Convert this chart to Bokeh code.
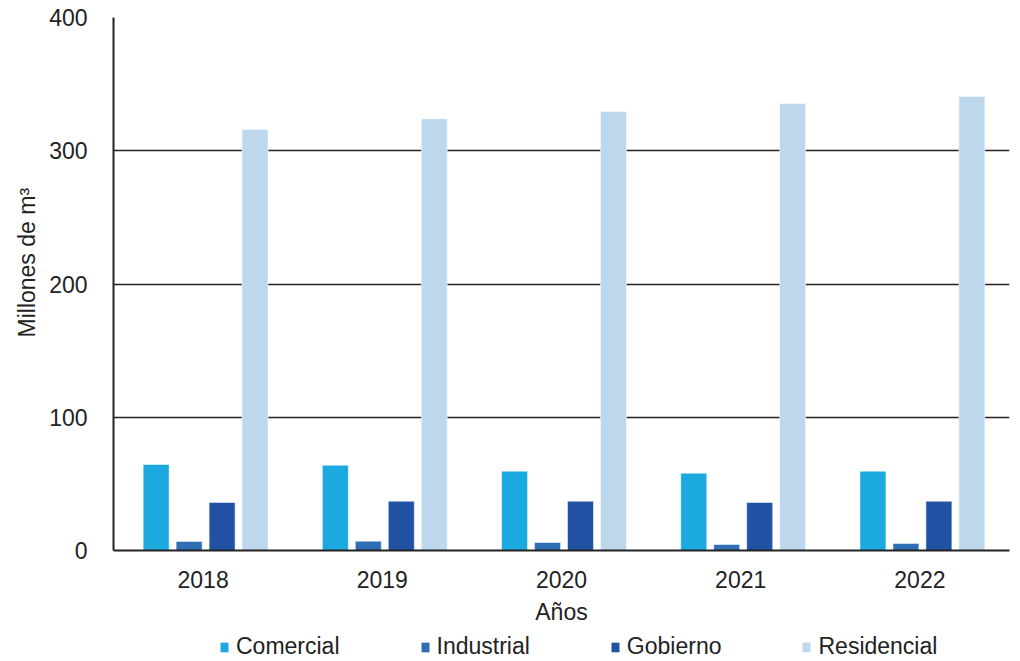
from bokeh.plotting import figure
from bokeh.layouts import column
from bokeh.models import ColumnDataSource, Range1d, Legend, LegendItem, FixedTicker, Title
from bokeh.transform import dodge
from bokeh.embed import file_html
from bokeh.resources import INLINE

years = ["2018", "2019", "2020", "2021", "2022"]
comercial = [64.5, 64.0, 59.5, 58.0, 59.5]
industrial = [6.8, 7.0, 6.0, 4.5, 5.3]
gobierno = [36.0, 37.0, 37.0, 36.0, 37.0]
residencial = [316.0, 324.0, 329.5, 335.5, 340.7]

series = [("Comercial", comercial, "#1BA9E0"),
          ("Industrial", industrial, "#2F6DB5"),
          ("Gobierno", gobierno, "#2152A3"),
          ("Residencial", residencial, "#BDD7EC")]

src = ColumnDataSource(dict(years=years, comercial=comercial, industrial=industrial,
                            gobierno=gobierno, residencial=residencial))

FONT = "Liberation Sans"
p = figure(x_range=years, y_range=Range1d(0, 400), output_backend="svg",
           toolbar_location=None, frame_width=896, frame_height=533,
           min_border_left=113, min_border_right=3, min_border_top=17, min_border_bottom=0,
           width=1012, height=628)
p.outline_line_color = None
p.background_fill_color = "white"

offsets = [-0.262, -0.078, 0.106, 0.290]
keys = ["comercial", "industrial", "gobierno", "residencial"]
for (name, vals, color), off, key in zip(series, offsets, keys):
    p.vbar(x=dodge("years", off, range=p.x_range), top=key, width=0.145, source=src,
           fill_color=color, line_color="white", line_alpha=0.5, line_width=1)

p.yaxis.ticker = FixedTicker(ticks=[0, 100, 200, 300, 400])
p.ygrid.grid_line_color = "#222222"
p.ygrid.grid_line_width = 1.5
p.xgrid.grid_line_color = None

for ax in (p.xaxis[0], p.yaxis[0]):
    ax.major_tick_line_color = None
    ax.minor_tick_line_color = None
    ax.axis_line_color = "#222222"
    ax.axis_line_width = 2
    ax.major_label_text_font = FONT
    ax.major_label_text_font_size = "23px"
    ax.major_label_text_color = "#222222"
    ax.axis_label_text_font = FONT
    ax.axis_label_text_font_size = "23px"
    ax.axis_label_text_font_style = "normal"
    ax.axis_label_text_color = "#222222"

p.xaxis.axis_label = "Años"
p.xaxis.major_label_standoff = 14
p.yaxis.major_label_standoff = 20
p.xaxis.axis_label_standoff = 8

ytitle = Title(text="Millones de m³", align="left", offset=213, standoff=14,
               text_font=FONT, text_font_size="23px", text_font_style="normal",
               text_color="#222222")
p.add_layout(ytitle, "left")

# legend strip
p2 = figure(width=1012, height=33, output_backend="svg", toolbar_location=None,
            x_range=Range1d(0, 1), y_range=Range1d(0, 1),
            min_border_left=0, min_border_right=0, min_border_top=0, min_border_bottom=0)
p2.axis.visible = False
p2.grid.visible = False
p2.outline_line_color = None
items = []
for name, vals, color in series:
    r = p2.vbar(x=[0.5], top=[0], bottom=[0], width=0.1, fill_color=color, line_color=None)
    items.append(LegendItem(label=name, renderers=[r]))
legend = Legend(items=items, orientation="horizontal", location=(106, 0),
                label_text_font=FONT, label_text_font_size="23px", label_text_color="#222222",
                glyph_width=10, glyph_height=12, label_standoff=7, spacing=80,
                border_line_color=None, background_fill_alpha=0, padding=0, margin=0,
                label_height=22)
p2.add_layout(legend)

open("out.html", "w").write(file_html(column(p, p2, spacing=0), INLINE))
